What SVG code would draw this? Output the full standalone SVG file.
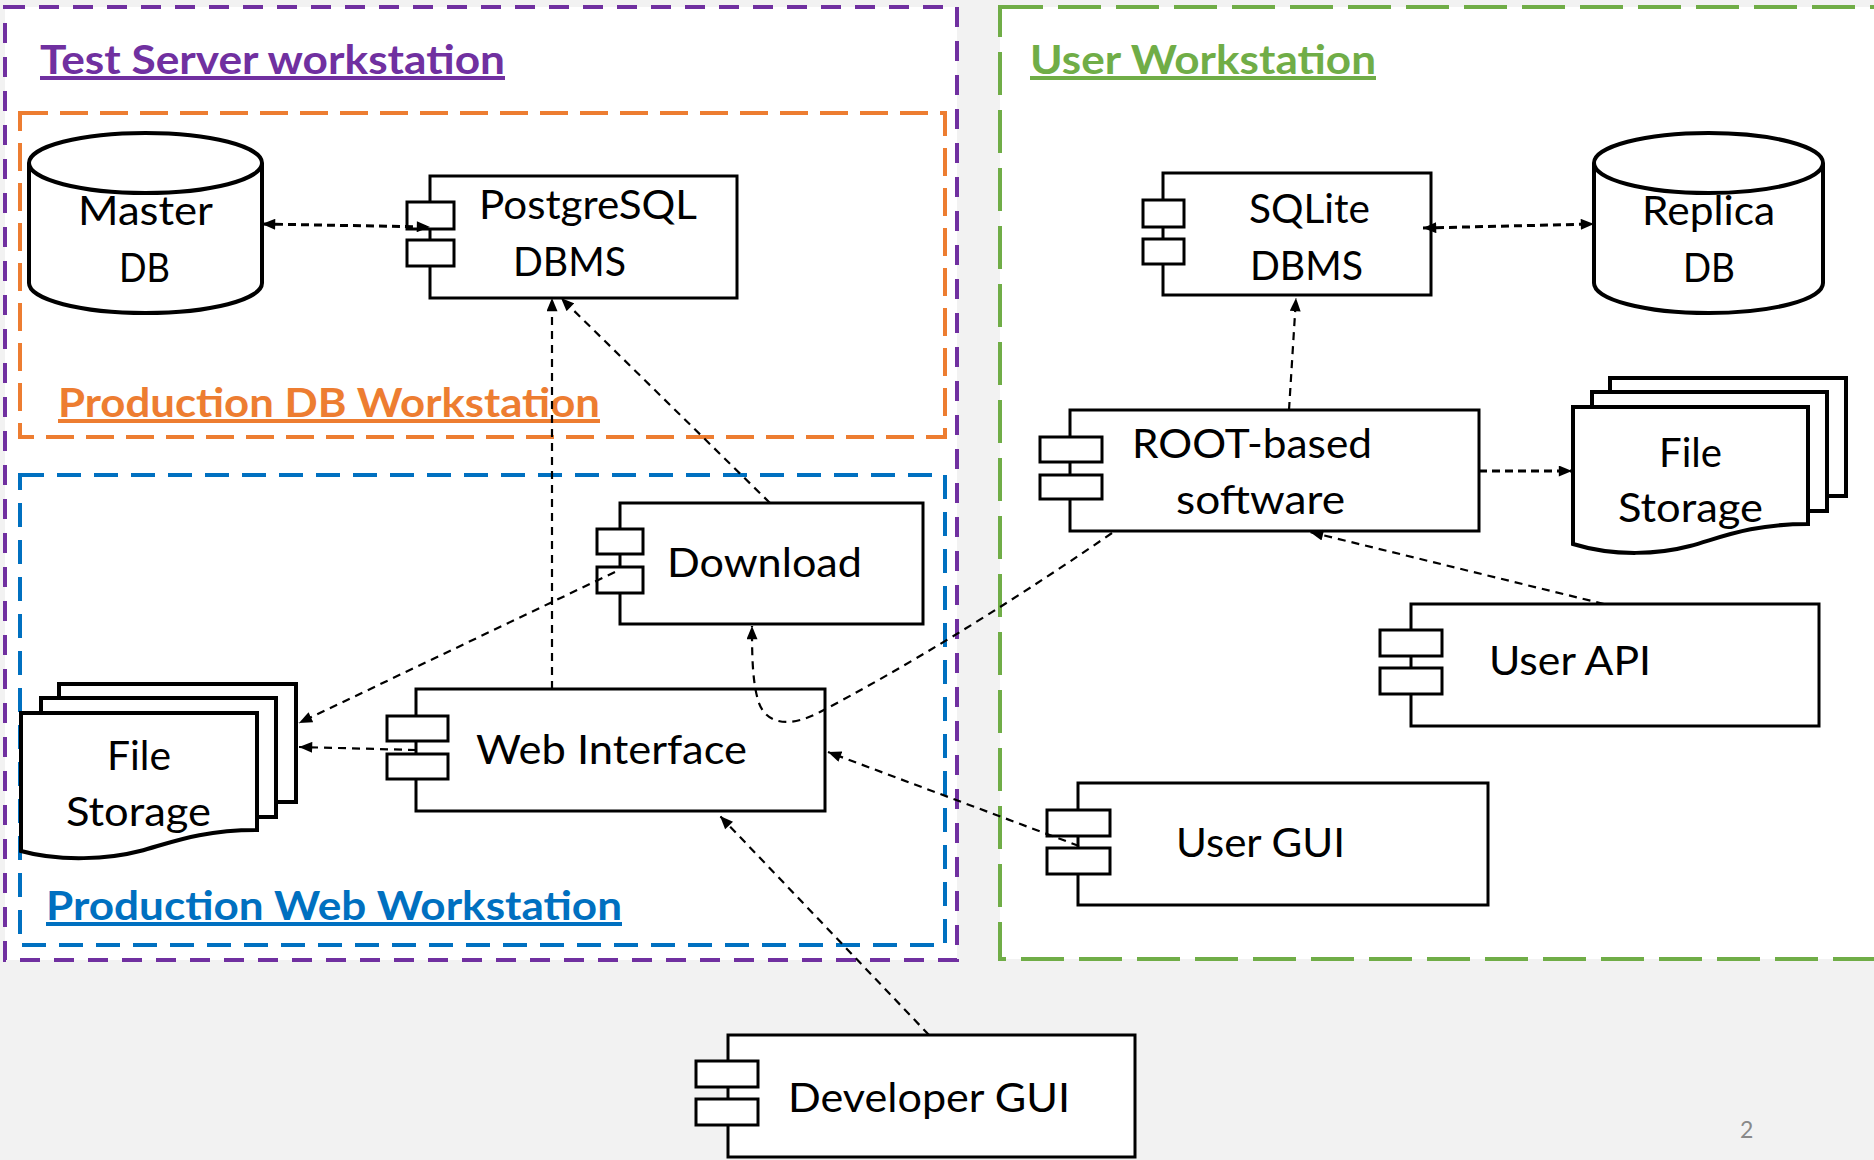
<svg xmlns="http://www.w3.org/2000/svg" width="1874" height="1160" viewBox="0 0 1874 1160">
<style>
.t{font-family:Lato,"Open Sans","Liberation Sans",sans-serif;font-size:40px;fill:#000}
.h{font-family:Lato,"Open Sans","Liberation Sans",sans-serif;font-size:40px;font-weight:bold;text-decoration:underline}
.box{fill:#fff;stroke:#000;stroke-width:3}
.doc{fill:#fff;stroke:#000;stroke-width:4}
.cyl{fill:#fff;stroke:#000;stroke-width:4}
.c{fill:none;stroke:#000;stroke-width:2.2;stroke-dasharray:8 6}
.c2{fill:none;stroke:#000;stroke-width:3;stroke-dasharray:8 5}
</style>
<defs>
<marker id="ah" viewBox="0 0 12 10" refX="12" refY="5" markerWidth="14" markerHeight="11" markerUnits="userSpaceOnUse" orient="auto-start-reverse">
<path d="M0,0 L12,5 L0,10 Z" fill="#000"/>
</marker>
</defs>
<rect x="0" y="0" width="1874" height="1160" fill="#f2f2f2"/>
<g id="containers">
<rect id="test-server" x="5" y="7" width="952" height="953" fill="#fff" stroke="#7030a0" stroke-width="4" stroke-dasharray="20 14"/>
<rect id="user-ws" x="1000" y="7" width="890" height="952" fill="#fff" stroke="#70ad47" stroke-width="4" stroke-dasharray="43 15"/>
<rect id="prod-db" x="20" y="113" width="925" height="324" fill="none" stroke="#ed7d31" stroke-width="4" stroke-dasharray="28 12"/>
<rect id="prod-web" x="20" y="475" width="925" height="470" fill="none" stroke="#0070c0" stroke-width="4" stroke-dasharray="24 13"/>
<text class="h" x="40" y="74" fill="#7030a0" textLength="465" lengthAdjust="spacingAndGlyphs">Test Server workstation</text>
<text class="h" x="58" y="417" fill="#ed7d31" textLength="542" lengthAdjust="spacingAndGlyphs">Production DB Workstation</text>
<text class="h" x="46" y="920" fill="#0070c0" textLength="576" lengthAdjust="spacingAndGlyphs">Production Web Workstation</text>
<text class="h" x="1030" y="74" fill="#70ad47" textLength="346" lengthAdjust="spacingAndGlyphs">User Workstation</text>
</g>
<g id="master-db">
<path class="cyl" d="M29,163 A116.5,30 0 0 1 262,163 V283 A116.5,30 0 0 1 29,283 Z"/>
<path class="cyl" d="M29,163 A116.5,30 0 0 0 262,163"/>
<text class="t" x="78" y="225" textLength="135" lengthAdjust="spacingAndGlyphs">Master</text>
<text class="t" x="119" y="282" textLength="51" lengthAdjust="spacingAndGlyphs">DB</text>
</g>
<g id="postgresql">
<rect class="box" x="430" y="176" width="307" height="122"/>
<rect class="box" x="407" y="202" width="47" height="27"/>
<rect class="box" x="407" y="240" width="47" height="26"/>
<text class="t" x="479" y="219" textLength="218" lengthAdjust="spacingAndGlyphs">PostgreSQL</text>
<text class="t" x="513" y="276" textLength="113" lengthAdjust="spacingAndGlyphs">DBMS</text>
</g>
<g id="sqlite">
<rect class="box" x="1163" y="173" width="268" height="122"/>
<rect class="box" x="1143" y="200" width="41" height="27"/>
<rect class="box" x="1143" y="239" width="41" height="25"/>
<text class="t" x="1249" y="223" textLength="121" lengthAdjust="spacingAndGlyphs">SQLite</text>
<text class="t" x="1250" y="280" textLength="113" lengthAdjust="spacingAndGlyphs">DBMS</text>
</g>
<g id="replica-db">
<path class="cyl" d="M1594,163 A114.5,30 0 0 1 1823,163 V283 A114.5,30 0 0 1 1594,283 Z"/>
<path class="cyl" d="M1594,163 A114.5,30 0 0 0 1823,163"/>
<text class="t" x="1642" y="225" textLength="133" lengthAdjust="spacingAndGlyphs">Replica</text>
<text class="t" x="1683" y="282" textLength="52" lengthAdjust="spacingAndGlyphs">DB</text>
</g>
<g id="root-software">
<rect class="box" x="1070" y="410" width="409" height="121"/>
<rect class="box" x="1040" y="437" width="62" height="25"/>
<rect class="box" x="1040" y="475" width="62" height="24"/>
<text class="t" x="1132" y="458" textLength="240" lengthAdjust="spacingAndGlyphs">ROOT-based</text>
<text class="t" x="1176" y="514" textLength="169" lengthAdjust="spacingAndGlyphs">software</text>
</g>
<g id="file-storage-user">
<rect class="doc" x="1610" y="378" width="236" height="118"/>
<rect class="doc" x="1592" y="392" width="235" height="119"/>
<path class="doc" d="M1573,407 H1808 V524 C1750,524 1720,538 1690,546 C1660,554 1615,557 1573,544 Z"/>
<text class="t" x="1659" y="467" textLength="63" lengthAdjust="spacingAndGlyphs">File</text>
<text class="t" x="1618" y="522" textLength="145" lengthAdjust="spacingAndGlyphs">Storage</text>
</g>
<g id="download">
<rect class="box" x="620" y="503" width="303" height="121"/>
<rect class="box" x="597" y="529" width="46" height="25"/>
<rect class="box" x="597" y="567" width="46" height="26"/>
<text class="t" x="667" y="577" textLength="195" lengthAdjust="spacingAndGlyphs">Download</text>
</g>
<g id="file-storage-web">
<rect class="doc" x="59" y="684" width="237" height="118"/>
<rect class="doc" x="41" y="698" width="235" height="119"/>
<path class="doc" d="M21,713 H257 V830 C200,830 170,843 140,851 C110,859 60,862 21,851 Z"/>
<text class="t" x="107" y="770" textLength="64" lengthAdjust="spacingAndGlyphs">File</text>
<text class="t" x="66" y="826" textLength="145" lengthAdjust="spacingAndGlyphs">Storage</text>
</g>
<g id="web-interface">
<rect class="box" x="416" y="689" width="409" height="122"/>
<rect class="box" x="387" y="716" width="61" height="25"/>
<rect class="box" x="387" y="754" width="61" height="25"/>
<text class="t" x="476" y="764" textLength="271" lengthAdjust="spacingAndGlyphs">Web Interface</text>
</g>
<g id="user-api">
<rect class="box" x="1411" y="604" width="408" height="122"/>
<rect class="box" x="1380" y="630" width="62" height="26"/>
<rect class="box" x="1380" y="668" width="62" height="26"/>
<text class="t" x="1489" y="675" textLength="162" lengthAdjust="spacingAndGlyphs">User API</text>
</g>
<g id="user-gui">
<rect class="box" x="1078" y="783" width="410" height="122"/>
<rect class="box" x="1047" y="810" width="63" height="26"/>
<rect class="box" x="1047" y="848" width="63" height="26"/>
<text class="t" x="1176" y="857" textLength="169" lengthAdjust="spacingAndGlyphs">User GUI</text>
</g>
<g id="developer-gui">
<rect class="box" x="728" y="1035" width="407" height="122"/>
<rect class="box" x="696" y="1061" width="62" height="26"/>
<rect class="box" x="696" y="1099" width="62" height="26"/>
<text class="t" x="788" y="1112" textLength="282" lengthAdjust="spacingAndGlyphs">Developer GUI</text>
</g>
<g id="connectors">
<path class="c2" d="M262,224 L430,227" marker-start="url(#ah)" marker-end="url(#ah)"/>
<path class="c2" d="M1423,228 L1594,224" marker-start="url(#ah)" marker-end="url(#ah)"/>
<path class="c" d="M1289,410 L1296,298" marker-end="url(#ah)"/>
<path class="c2" d="M1479,471 L1572,471" marker-end="url(#ah)"/>
<path class="c" d="M1604,604 L1310,532" marker-end="url(#ah)"/>
<path class="c" d="M552,689 L552,298" marker-end="url(#ah)"/>
<path class="c" d="M770,503 L561,298" marker-end="url(#ah)"/>
<path class="c" d="M615,572 L299,723" marker-end="url(#ah)"/>
<path class="c" d="M416,750 L299,747" marker-end="url(#ah)"/>
<path class="c" d="M1112,533 C1000,610 900,670 820,712 C790,728 765,725 758,700 C752,680 752,650 752,626" marker-end="url(#ah)"/>
<path class="c" d="M1079,846 L828,752" marker-end="url(#ah)"/>
<path class="c" d="M929,1035 L720,816" marker-end="url(#ah)"/>
</g>
<text x="1740" y="1138" font-family="Lato,'Liberation Sans',sans-serif" font-size="23" fill="#898989">2</text>
</svg>
